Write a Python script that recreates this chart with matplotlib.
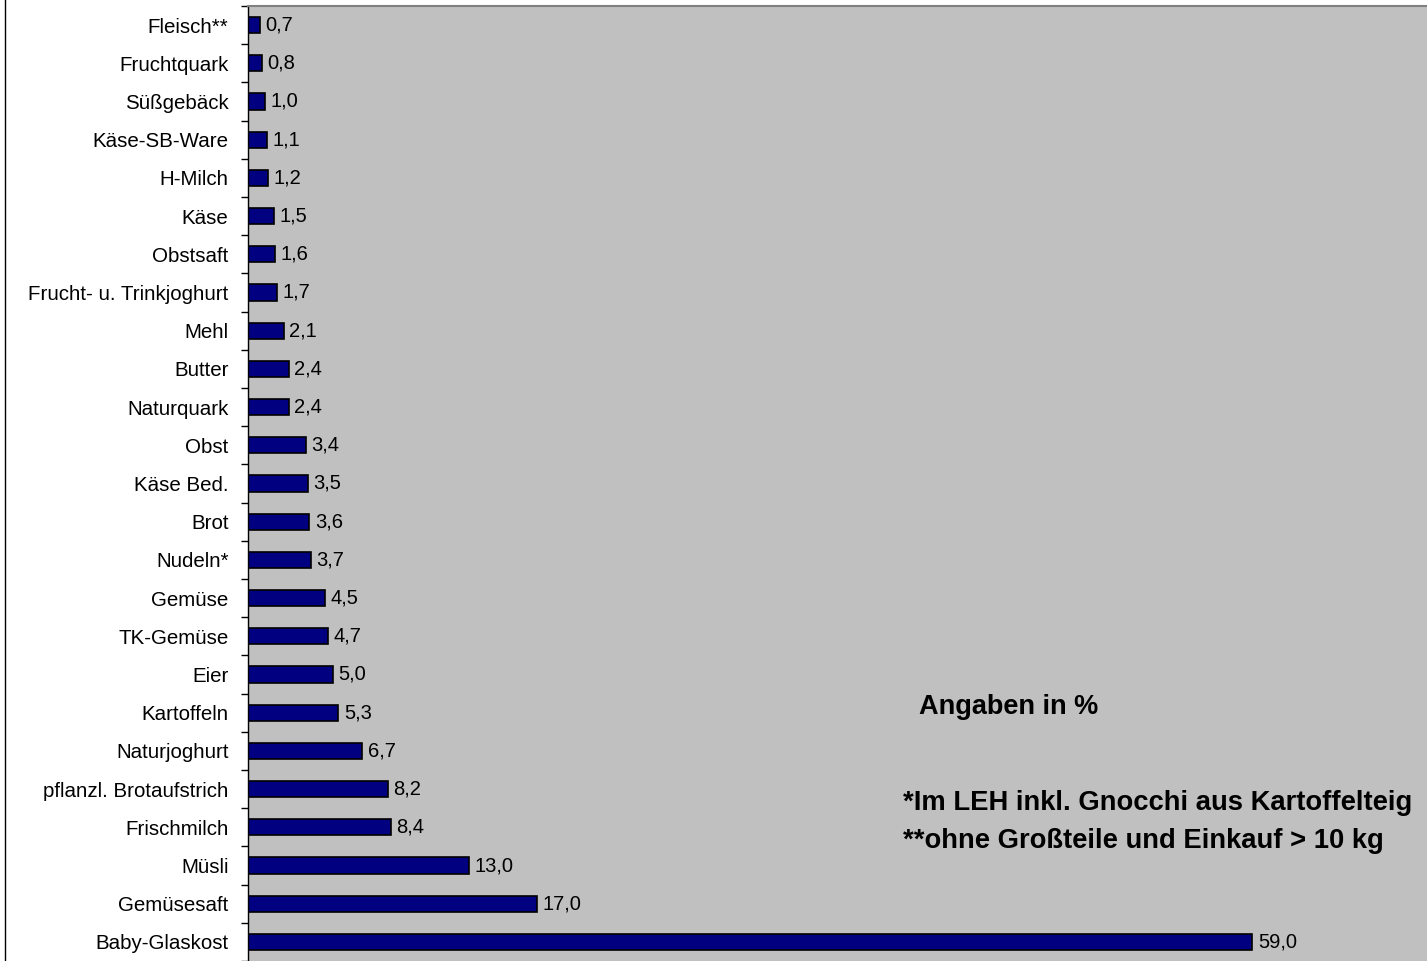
import numpy as np
import matplotlib.pyplot as plt
from matplotlib.lines import Line2D

# -----------------------------
# data (bottom to top)
# -----------------------------
categories = [
    "Baby-Glaskost", "Gemüsesaft", "Müsli", "Frischmilch", "pflanzl. Brotaufstrich",
    "Naturjoghurt", "Kartoffeln", "Eier", "TK-Gemüse", "Gemüse", "Nudeln*", "Brot",
    "Käse Bed.", "Obst", "Naturquark", "Butter", "Mehl", "Frucht- u. Trinkjoghurt",
    "Obstsaft", "Käse", "H-Milch", "Käse-SB-Ware", "Süßgebäck", "Fruchtquark", "Fleisch**",
]
values = [
    59.0, 17.0, 13.0, 8.4, 8.2,
    6.7, 5.3, 5.0, 4.7, 4.5, 3.7, 3.6,
    3.5, 3.4, 2.4, 2.4, 2.1, 1.7,
    1.6, 1.5, 1.2, 1.1, 1.0, 0.8, 0.7,
]
note_unit = "Angaben in %"
note_lines = ["*Im LEH inkl. Gnocchi aus Kartoffelteig",
              "**ohne Großteile und Einkauf > 10 kg"]

plt.rcParams['font.family'] = ['Liberation Sans', 'DejaVu Sans']

W, H = 1427, 961
fig = plt.figure(figsize=(W / 100, H / 100), dpi=100)
ax = fig.add_axes([248 / W, 0.0, 1 - 248 / W, 1 - 6 / H])
ax.set_facecolor('#C0C0C0')

y = np.arange(len(categories))
ax.barh(y, values, height=0.42, color='#000080', edgecolor='black', linewidth=1.2)

for yi, v in zip(y, values):
    ax.annotate(f"{v:.1f}".replace('.', ','), (v, yi), xytext=(4, 0),
                textcoords='offset points', va='center', ha='left', fontsize=14.5)

ax.set_xlim(0, 69.27)
ax.set_ylim(-0.5, len(categories) - 0.5)

ax.set_yticks(y)
ax.set_yticklabels(categories, fontsize=14.8)
ax.tick_params(axis='y', which='major', length=0, pad=14)
ax.set_yticks(np.arange(-0.5, len(categories), 1), minor=True)
ax.tick_params(axis='y', which='minor', length=5, width=1, color='black', direction='out')
ax.set_xticks([])

for s in ['right', 'bottom']:
    ax.spines[s].set_visible(False)
ax.spines['left'].set_color('black')
ax.spines['left'].set_linewidth(1)
ax.spines['top'].set_color('#808080')
ax.spines['top'].set_linewidth(1.5)

ax.text(39.4, 6.15, note_unit, fontsize=19.5, fontweight='bold', va='center', ha='left')
ax.text(38.5, 3.63, note_lines[0], fontsize=19.7, fontweight='bold', va='center', ha='left')
ax.text(38.5, 2.64, note_lines[1], fontsize=19.7, fontweight='bold', va='center', ha='left')

# left frame line of the chart area
fig.add_artist(Line2D([4.5 / W, 4.5 / W], [0, 1], color='black', linewidth=1))

fig.savefig('out.png', dpi=100)
